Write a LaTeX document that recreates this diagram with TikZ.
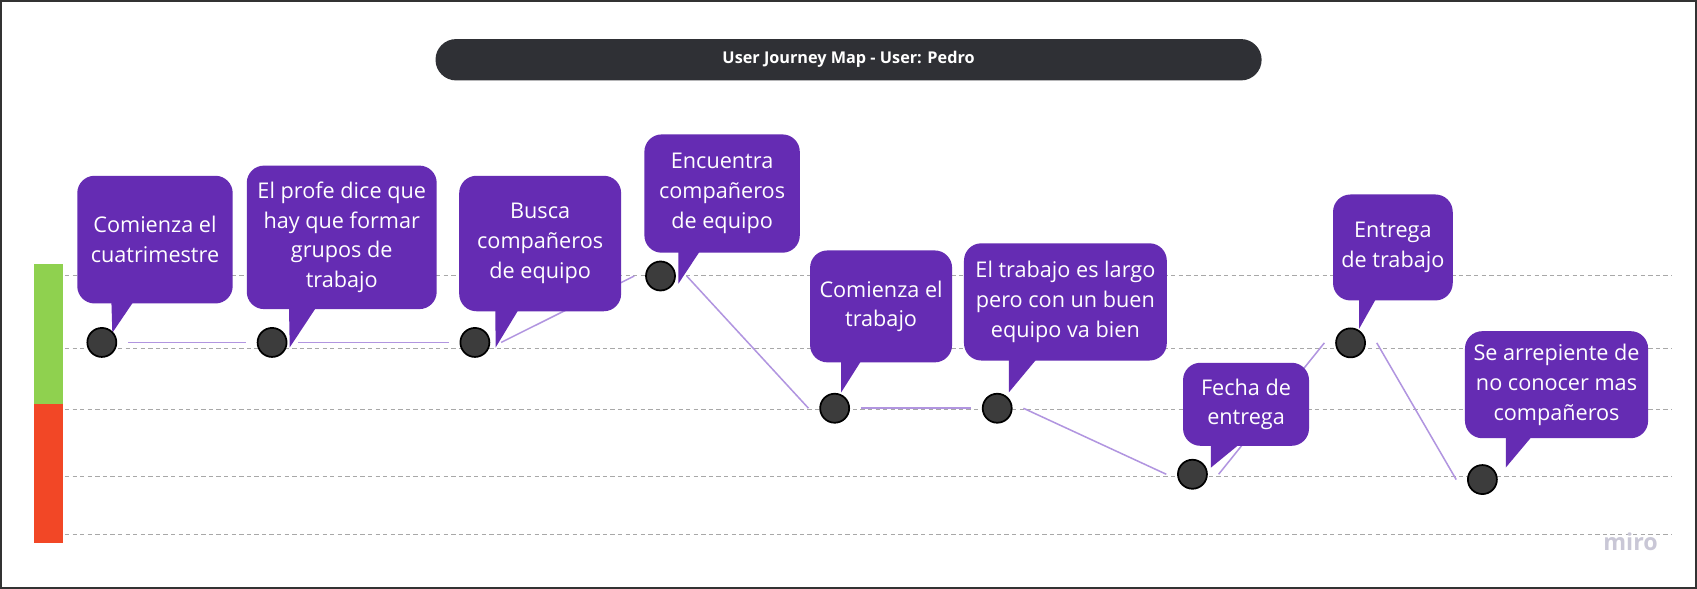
\documentclass[tikz,border=0pt]{standalone}
\usepackage{fontspec}
\setmainfont{Open Sans}
\definecolor{jviolet}{HTML}{652CB3}
\definecolor{linkviolet}{HTML}{B195E0}
\definecolor{dotgray}{HTML}{3C3C3C}
\definecolor{guidegray}{HTML}{A8A8A8}
\definecolor{titlegray}{HTML}{2F3035}
\definecolor{framegray}{HTML}{333333}
\definecolor{goodgreen}{HTML}{8FD14F}
\definecolor{badred}{HTML}{F24726}
\definecolor{mirogray}{HTML}{C9C7D6}
\pgfdeclarelayer{bg}
\pgfdeclarelayer{mid}
\pgfsetlayers{bg,mid,main}
\begin{document}
\begin{tikzpicture}[x=1pt,y=-1pt,
  bubble/.style={fill=jviolet, rounded corners=16pt, text=white, align=center,
    font=\fontsize{20}{27.5}\selectfont, inner sep=0pt},
  tail/.style={fill=jviolet},
  dot/.style={circle, fill=dotgray, draw=black, line width=1.6pt, minimum size=26.8pt, inner sep=0pt},
  link/.style={draw=linkviolet, line width=1.4pt},
  guide/.style={draw=guidegray, line width=0.9pt, dash pattern=on 4pt off 3pt}]
\useasboundingbox (0,0) rectangle (1568,544);

% emotion scale
\fill[goodgreen] (31.5,244) rectangle (58.3,373.4);
\fill[badred] (31.5,373.4) rectangle (58.3,502);

% title
\node[fill=titlegray, rounded corners=19pt, minimum width=763.3pt, minimum height=38.2pt,
  inner sep=0pt, text=white, font=\bfseries\fontsize{15}{18}\selectfont] (title) at (784.05,55.2)
  {User Journey Map - User: Pedro};

% journey points
\node[dot] (c1) at (94.1,316.4) {};
\node[dot] (c2) at (251.4,316.4) {};
\node[dot] (c3) at (438.8,316.4) {};
\node[dot] (c4) at (610.3,255) {};
\node[dot] (c5) at (771.2,377.2) {};
\node[dot] (c6) at (921.4,377.2) {};
\node[dot] (c7) at (1101.8,438.2) {};
\node[dot] (c8) at (1247.9,316.8) {};
\node[dot] (c9) at (1369.7,443.1) {};

\begin{pgfonlayer}{bg}
\fill[white] (0,0) rectangle (1568,544);
\foreach \yy in {254.3,321.7,378.2,440,494}
  \draw[guide] (60,\yy) -- (1545,\yy);
\end{pgfonlayer}

\begin{pgfonlayer}{mid}
\draw[link] ([xshift=10pt]c1.east) -- ([xshift=-10pt]c2.west);
\draw[link] ([xshift=10pt]c2.east) -- ([xshift=-10pt]c3.west);
\draw[link] ([xshift=10pt]c3.east) -- ([xshift=-10pt]c4.west);
\draw[link] ([xshift=10pt]c4.east) -- ([xshift=-10pt]c5.west);
\draw[link] ([xshift=10pt]c5.east) -- ([xshift=-10pt]c6.west);
\draw[link] ([xshift=10pt]c6.east) -- ([xshift=-10pt]c7.west);
\draw[link] ([xshift=10pt]c7.east) -- ([xshift=-10pt]c8.west);
\draw[link] ([xshift=10pt]c8.east) -- ([xshift=-10pt]c9.west);

\node[bubble, minimum width=143.6pt, minimum height=118pt] (b1) at (143.2,221.4)
  {Comienza el\\cuatrimestre};
\fill[tail] (102.9,278) -- (123.8,278) -- (103.8,307.5) -- cycle;

\node[bubble, minimum width=175.5pt, minimum height=132.6pt] (b2) at (315.75,219.3)
  {El profe dice que\\hay que formar\\grupos de\\trabajo};
\fill[tail] (267,283) -- (292.8,283) -- (267.7,321) -- cycle;

\node[bubble, minimum width=149.6pt, minimum height=125.2pt] (b3) at (499.1,225)
  {Busca\\compañeros\\de equipo};
\fill[tail] (457.6,285) -- (479.8,285) -- (458,321) -- cycle;

\node[bubble, minimum width=143.6pt, minimum height=109.3pt] (b4) at (667.2,178.85)
  {Encuentra\\compañeros\\de equipo};
\fill[tail] (626.9,231) -- (647.4,231) -- (626.9,262) -- cycle;

\node[bubble, minimum width=131.2pt, minimum height=103.4pt] (b5) at (814.1,283.1)
  {Comienza el\\trabajo};
\fill[tail] (777.2,332) -- (796.6,332) -- (777.2,362.6) -- cycle;

\node[bubble, minimum width=187.4pt, minimum height=108.3pt] (b6) at (984.4,278.95)
  {El trabajo es largo\\pero con un buen\\equipo va bien};
\fill[tail] (932.1,330) -- (959.3,330) -- (932.1,362.6) -- cycle;

\node[bubble, minimum width=116.4pt, minimum height=76.7pt] (b7) at (1151.3,373.55)
  {Fecha de\\entrega};
\fill[tail] (1118.9,409) -- (1147,409) -- (1118.9,432) -- cycle;

\node[bubble, minimum width=110.6pt, minimum height=97.9pt] (b8) at (1287,228.65)
  {Entrega\\de trabajo};
\fill[tail] (1255.9,275) -- (1272,275) -- (1255.9,303.6) -- cycle;

\node[bubble, minimum width=169.2pt, minimum height=98.9pt] (b9) at (1438.2,355.45)
  {Se arrepiente de\\no conocer mas\\compañeros};
\fill[tail] (1391.3,402) -- (1416.5,402) -- (1391.3,432) -- cycle;
\end{pgfonlayer}

\node[text=mirogray, font=\bfseries\fontsize{21.5}{22}\selectfont, inner sep=0pt] (logo) at (1506.6,500.5) {miro};

% frame
\draw[framegray, line width=1.5pt] (0.75,0.75) rectangle (1567.25,543.25);
\end{tikzpicture}
\end{document}
